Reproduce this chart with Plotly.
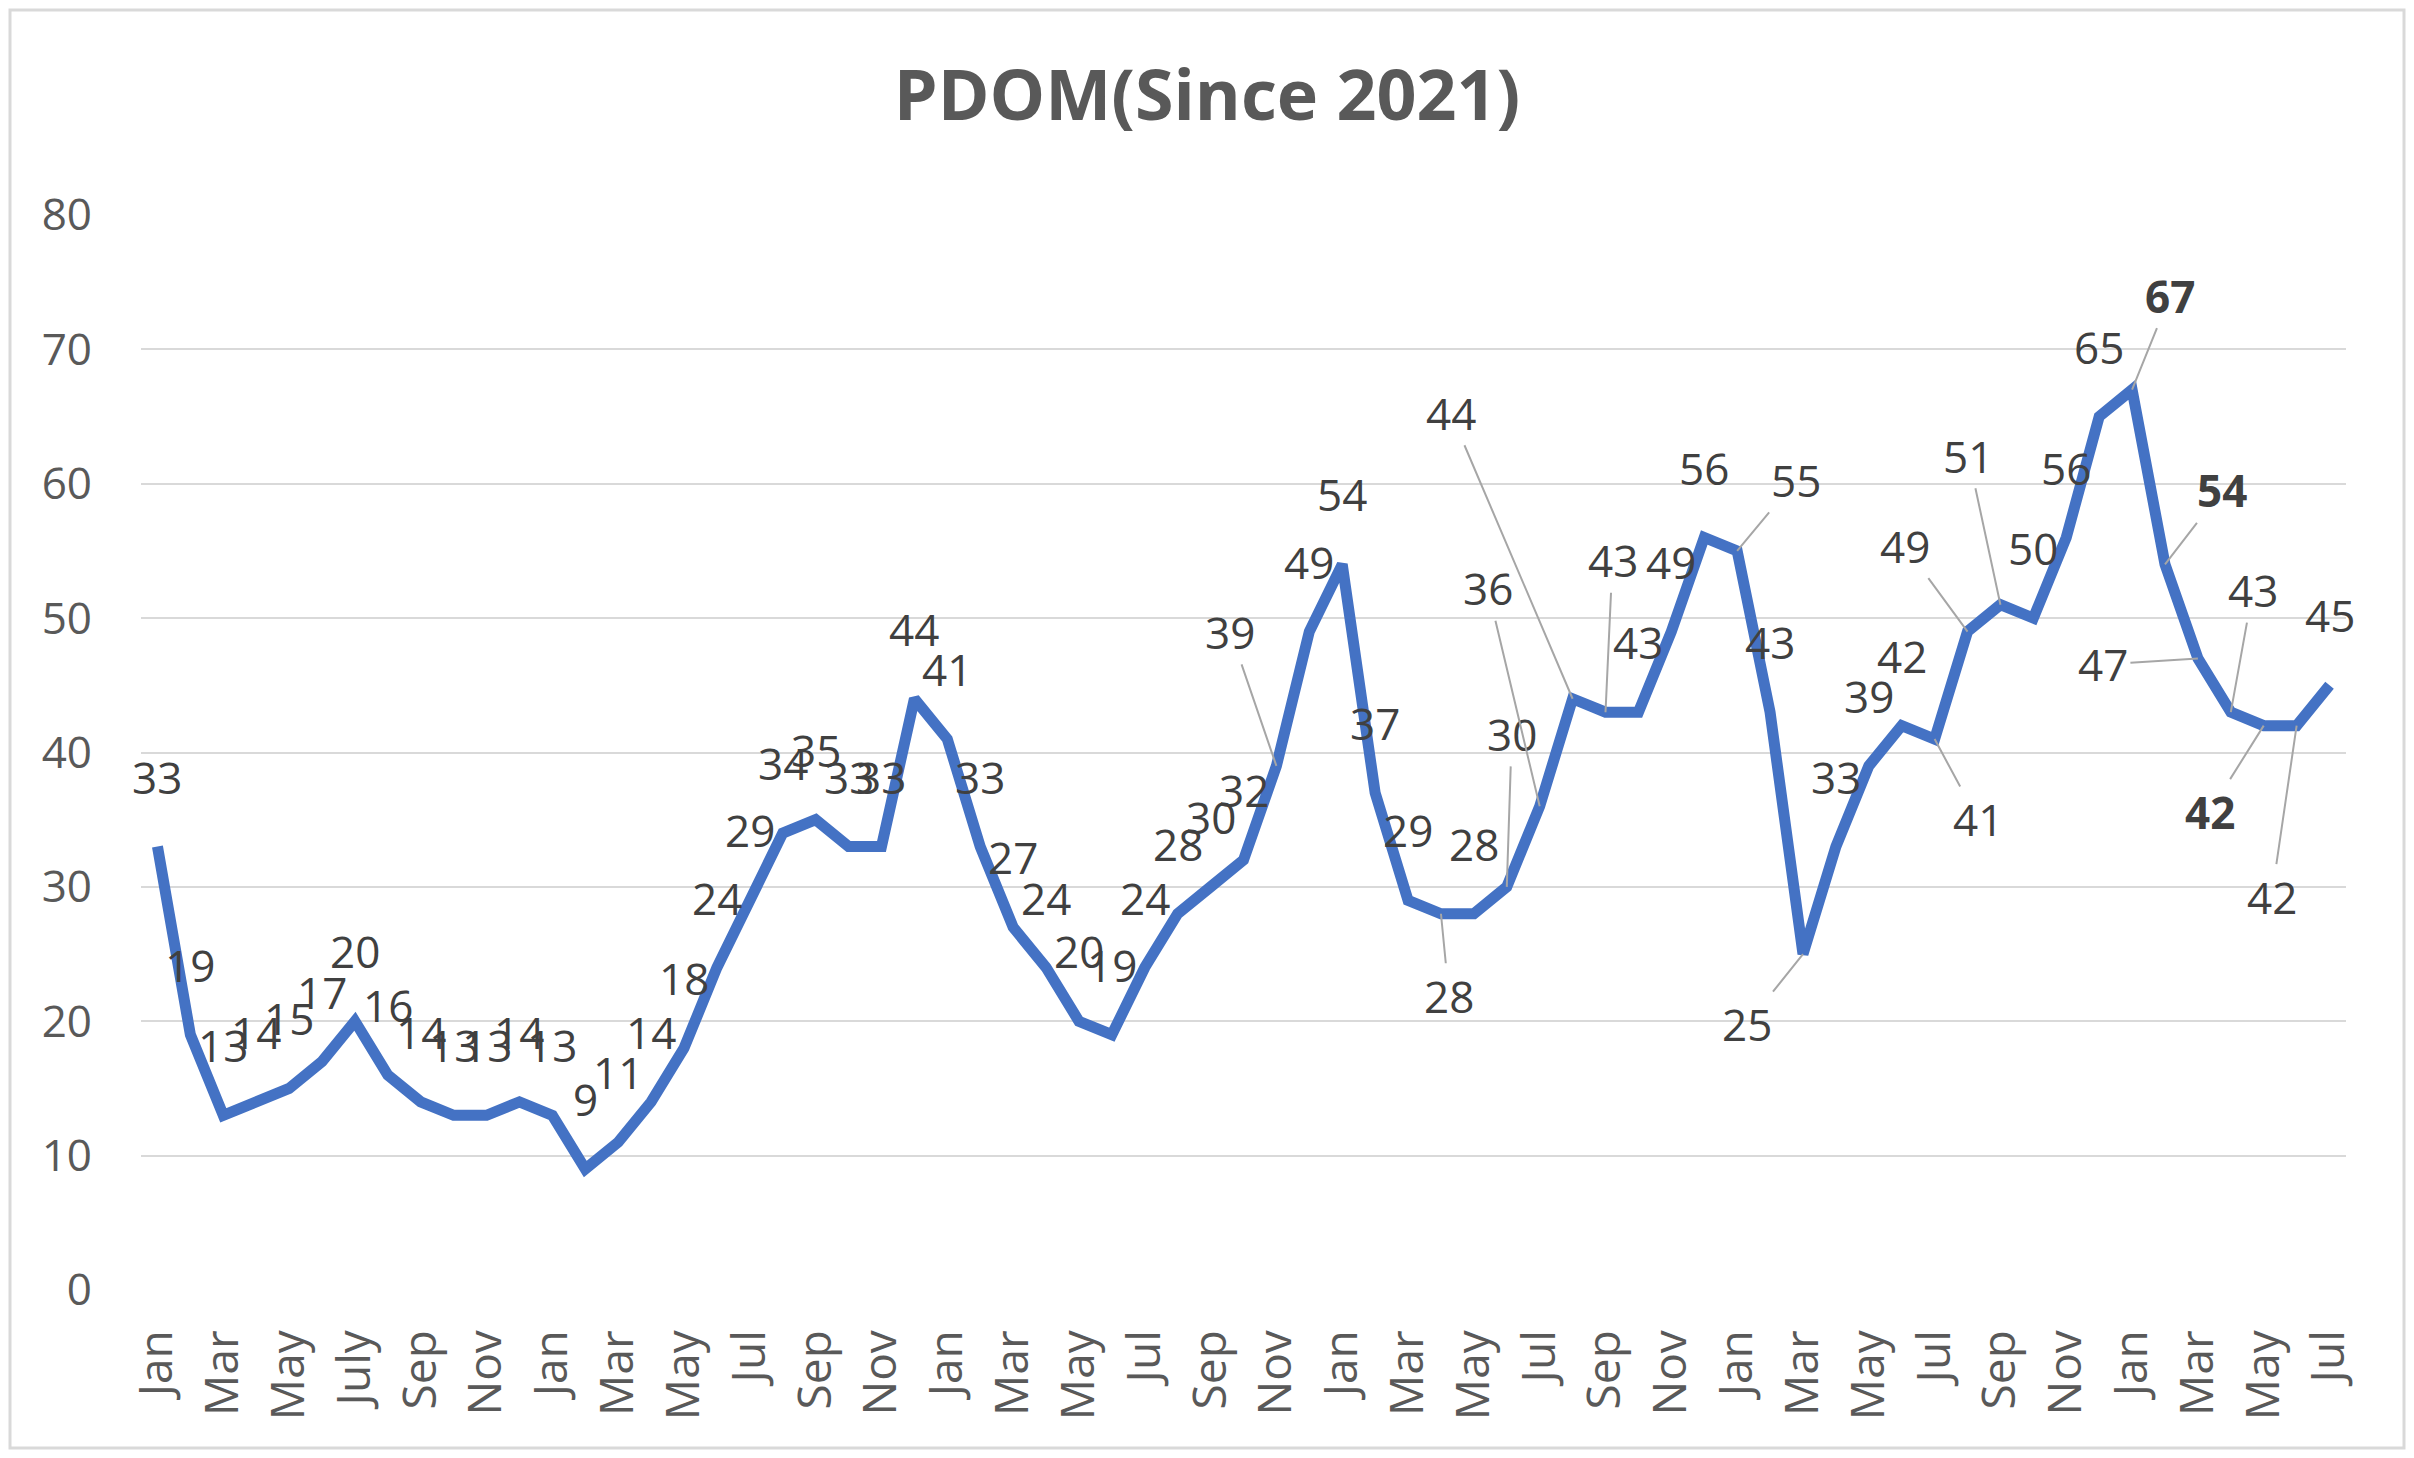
import plotly.graph_objects as go

# PDOM by month, Jan 2021 .. Jul 2026
pdom = [33, 19, 13, 14, 15, 17, 20, 16, 14, 13, 13, 14,
        13, 9, 11, 14, 18, 24, 29, 34, 35, 33, 33, 44,
        41, 33, 27, 24, 20, 19, 24, 28, 30, 32, 39, 49,
        54, 37, 29, 28, 28, 30, 36, 44, 43, 43, 49, 56,
        55, 43, 25, 33, 39, 42, 41, 49, 51, 50, 56, 65,
        67, 54, 47, 43, 42, 42, 45]

tick_labels = ["Jan", "Mar", "May", "July", "Sep", "Nov",
               "Jan", "Mar", "May", "Jul", "Sep", "Nov",
               "Jan", "Mar", "May", "Jul", "Sep", "Nov",
               "Jan", "Mar", "May", "Jul", "Sep", "Nov",
               "Jan", "Mar", "May", "Jul", "Sep", "Nov",
               "Jan", "Mar", "May", "Jul"]

bold_labels = [60, 61, 64]

# labels moved off the line, with a leader line: index -> (dx, dy) in px
leader_offsets = {
    34: (-46, -134), 39: (8, 82), 41: (5, -153), 42: (-52, -218),
    43: (-122, -286), 44: (7, -152), 48: (59, -71), 50: (-56, 70),
    54: (43, 80), 55: (-63, -86), 56: (-32, -149), 60: (38, -94),
    61: (57, -74), 62: (-95, 6), 63: (22, -122), 64: (-54, 86),
    65: (-25, 171),
}

x = list(range(len(pdom)))

# page body has an 8px margin, so the figure is a bit smaller than the window
W, H = 2398, 1442
L, R, T, B = 133, 60, 207, 160
TXT = "#595959"
LBL = "#404040"

fig = go.Figure()
fig.add_trace(go.Scatter(
    x=x, y=pdom, mode="lines",
    line=dict(color="#4472C4", width=11),
    hoverinfo="x+y", showlegend=False,
))

annotations = []
for i, v in enumerate(pdom):
    txt = f"<b>{v}</b>" if i in bold_labels else str(v)
    font = dict(family="Open Sans", size=44, color=LBL)
    if i in leader_offsets:
        dx, dy = leader_offsets[i]
        annotations.append(dict(
            x=i, y=v, text=txt, font=font, showarrow=True,
            arrowhead=0, arrowwidth=2, arrowcolor="#A6A6A6",
            ax=dx, ay=dy, standoff=0, borderpad=2,
        ))
    else:
        annotations.append(dict(
            x=i, y=v, text=txt, font=font, showarrow=False,
            xanchor="center", yanchor="middle", yshift=70,
        ))

pw = W - L - R
ph = H - T - B
fig.add_shape(
    type="rect", xref="paper", yref="paper",
    x0=-(L - 2) / pw, x1=1 + (R - 2) / pw,
    y0=-(B - 2) / ph, y1=1 + (T - 2) / ph,
    line=dict(color="#D9D9D9", width=3), layer="below",
)

fig.update_layout(
    width=W, height=H,
    margin=dict(l=L, r=R, t=T, b=B),
    paper_bgcolor="white", plot_bgcolor="white",
    title=dict(
        text="<b>PDOM(Since 2021)</b>",
        font=dict(family="Open Sans", size=70, color=TXT),
        x=0.5, xanchor="center", xref="container",
        y=1 - 87 / H, yanchor="middle", yref="container",
    ),
    xaxis=dict(
        range=[-0.5, len(pdom) - 0.5],
        tickmode="array", tickvals=x[::2], ticktext=tick_labels,
        tickangle=-90, showgrid=False, zeroline=False,
        showline=False, ticks="", ticklabelstandoff=30,
        tickfont=dict(family="Open Sans", size=46, color=TXT),
    ),
    yaxis=dict(
        range=[0, 80], dtick=10, showgrid=True,
        gridcolor="#D9D9D9", gridwidth=2, zeroline=False,
        showline=False, ticks="", ticklabelstandoff=48,
        tickfont=dict(family="Open Sans", size=44, color=TXT),
    ),
    annotations=annotations,
)

fig.write_html("out.html")
